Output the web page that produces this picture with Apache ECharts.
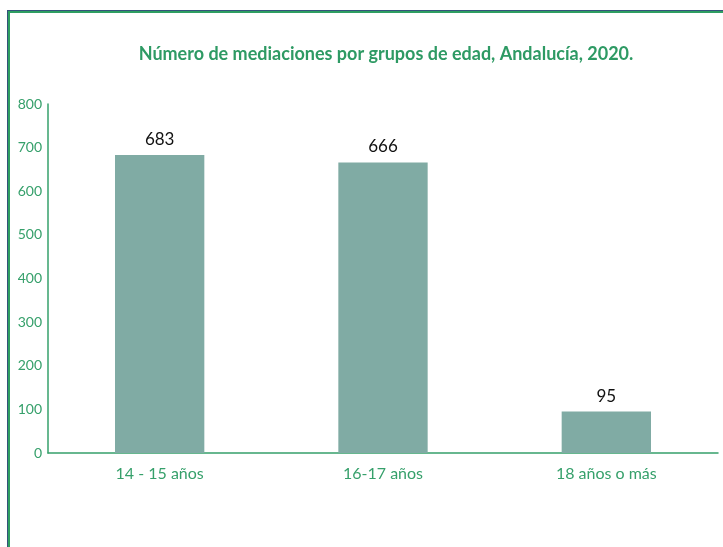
<!DOCTYPE html>
<html>
<head>
  <meta charset="utf-8" />
  <title>Mediaciones por grupos de edad</title>
  <script src="https://cdn.jsdelivr.net/npm/echarts@6/dist/echarts.min.js"></script>
  <style>
    html, body { margin: 0; padding: 0; background: #fff; }
    #frame {
      position: absolute; left: 7px; top: 10px; width: 730px; height: 560px;
      border-left: 1px solid #34527a; border-top: 1px solid #34527a;
    }
    #inner {
      position: absolute; left: 0; top: 0; right: 0; bottom: 0;
      border-left: 2px solid #2e9e62; border-top: 2px solid #2e9e62;
    }
    #main { position: absolute; left: 0; top: 0; width: 723px; height: 547px; }
  </style>
</head>
<body>
  <div id="frame"><div id="inner"></div></div>
  <div id="main"></div>
  <script type="text/javascript">
    // datos
    var grupos = ['14 - 15 años', '16-17 años', '18 años o más'];
    var mediaciones = [683, 666, 95];

    var verde = '#36a06b';
    var myChart = echarts.init(document.getElementById('main'));

    var option = {
      backgroundColor: 'transparent',
      title: {
        text: 'Número de mediaciones por grupos de edad, Andalucía, 2020.',
        left: 381,
        textAlign: 'center',
        top: 40,
        textStyle: {
          color: '#2e9a64',
          fontFamily: 'Lato',
          fontWeight: 'bold',
          fontSize: 18
        }
      },
      grid: {
        left: 48,
        right: 5,
        top: 104,
        bottom: 94,
        containLabel: false
      },
      xAxis: {
        type: 'category',
        data: grupos,
        axisLine: { lineStyle: { color: verde, width: 1.5 } },
        axisTick: { show: false },
        axisLabel: {
          color: verde,
          fontFamily: 'Lato',
          fontSize: 16,
          margin: 13
        }
      },
      yAxis: {
        type: 'value',
        min: 0,
        max: 800,
        interval: 100,
        axisLine: { show: true, lineStyle: { color: verde, width: 1.5 } },
        axisTick: { show: false },
        splitLine: { show: false },
        axisLabel: {
          color: verde,
          fontFamily: 'Lato',
          fontSize: 14,
          margin: 6
        }
      },
      series: [
        {
          type: 'bar',
          data: mediaciones,
          barWidth: '40%',
          itemStyle: { color: '#80aba4' },
          label: {
            show: true,
            position: 'top',
            distance: 7,
            color: '#111',
            fontFamily: 'Lato',
            fontSize: 17
          }
        }
      ]
    };
    option && myChart.setOption(option);
  </script>
</body>
</html>
